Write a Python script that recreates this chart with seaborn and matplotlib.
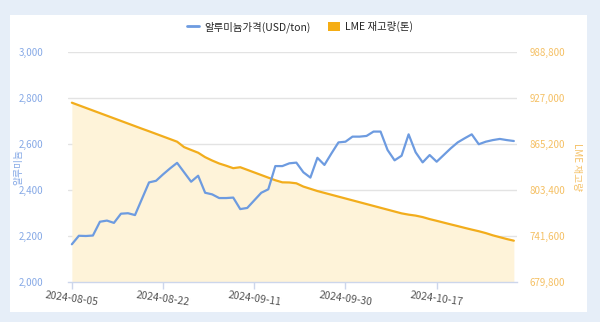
import numpy as np
import pandas as pd
import matplotlib
matplotlib.use("Agg")
import matplotlib.pyplot as plt
import seaborn as sns
from matplotlib.lines import Line2D
from matplotlib.patches import Patch, Rectangle

# ---------------- data ----------------
dates = [d.strftime("%Y-%m-%d") for d in pd.bdate_range("2024-08-05", "2024-11-01")
         if d.strftime("%Y-%m-%d") != "2024-08-26"]

price = [2164, 2201, 2200, 2202, 2262, 2267, 2257, 2297, 2299, 2291,
         2362, 2433, 2440, 2468, 2494, 2518, 2477, 2436, 2462, 2388,
         2381, 2365, 2365, 2367, 2317, 2322, 2355, 2388, 2403, 2504,
         2504, 2516, 2519, 2477, 2454, 2540, 2509, 2559, 2607, 2610,
         2632, 2632, 2635, 2654, 2654, 2574, 2529, 2549, 2642, 2564,
         2520, 2552, 2523, 2552, 2581, 2607, 2625, 2642, 2599, 2610,
         2617, 2622, 2617, 2613]

stock = [920700, 917200, 913700, 910200, 906700, 903200, 899700, 896200, 892700, 889200,
         885700, 882300, 878800, 875300, 871800, 868300, 861000, 857200, 853500, 847500,
         843000, 839000, 836000, 832700, 834000, 830500, 827000, 823500, 820000, 816500,
         813700, 813500, 812400, 808000, 805000, 802000, 799500, 797000, 794500, 792000,
         789500, 787000, 784500, 782000, 779500, 777000, 774500, 772000, 770300, 769000,
         767000, 764300, 762000, 759600, 757200, 754900, 752500, 750200, 748000, 745500,
         742500, 740000, 737500, 735300]

tick_dates = ["2024-08-05", "2024-08-22", "2024-09-11", "2024-09-30", "2024-10-17"]
left_ticks = [2000, 2200, 2400, 2600, 2800, 3000]
right_ticks = [679800, 741600, 803400, 865200, 927000, 988800]

price_label = "알루미늄가격(USD/ton)"
stock_label = "LME 재고량(톤)"
left_axis_title = "알루미늄"
right_axis_title = "LME 재고량"

# ---------------- style ----------------
sns.set_theme(style="white")
plt.rcParams["font.family"] = ["Noto Sans CJK KR", "DejaVu Sans"]

BLUE = "#6d9be0"
BLUE_TXT = "#86a9e6"
ORANGE = "#f2ad1c"
ORANGE_TXT = "#f5c064"
FILL = "#fef3d9"
GRID = "#e3e3e3"
BG = "#e6eef8"

df = pd.DataFrame({"idx": np.arange(len(dates)), "date": dates,
                   "price": price, "stock": stock})

fig = plt.figure(figsize=(6.0, 3.22), dpi=100, facecolor=BG)
fig.patches.append(Rectangle((10 / 600, 10 / 322), 577 / 600, 297 / 322,
                             transform=fig.transFigure, facecolor="white",
                             edgecolor="none", zorder=-5))

PL, PR = 68, 517
ax = fig.add_axes([PL / 600, 1 - 282 / 322, (PR - PL) / 600, 230 / 322])
ax.set_facecolor("none")
ax2 = ax.twinx()
ax2.set_facecolor("none")
ax.set_zorder(ax2.get_zorder() + 1)

# stock (right axis) area + line
ax2.fill_between(df["idx"], df["stock"], right_ticks[0], color=FILL, lw=0, zorder=1)
sns.lineplot(data=df, x="idx", y="stock", ax=ax2, color=ORANGE, lw=1.6, zorder=2)

# price (left axis)
sns.lineplot(data=df, x="idx", y="price", ax=ax, color=BLUE, lw=1.6, zorder=3)

ax.set_xlim(-0.55, len(dates) - 0.55)
ax.set_ylim(left_ticks[0], left_ticks[-1])
ax2.set_ylim(right_ticks[0], right_ticks[-1])

ax.set_yticks(left_ticks)
ax.set_yticklabels([f"{v:,}" for v in left_ticks], color=BLUE_TXT, fontsize=7)
ax2.set_yticks(right_ticks)
ax2.set_yticklabels([f"{v:,}" for v in right_ticks], color=ORANGE_TXT, fontsize=7)

xt = [dates.index(d) for d in tick_dates]
ax.set_xticks(xt)
ax.set_xticklabels(tick_dates, rotation=-8, ha="center", fontsize=7.5, color="#555555")

# grid on secondary axis (below data)
for v in right_ticks[1:]:
    ax2.axhline(v, color=GRID, lw=1, zorder=0.5)

for a in (ax, ax2):
    for s in a.spines.values():
        s.set_visible(False)
    a.set_xlabel("")
ax.spines["bottom"].set_visible(True)
ax.spines["bottom"].set_color("#ccd6eb")
ax.spines["bottom"].set_linewidth(1)

ax.tick_params(axis="x", length=5, width=1, color="#ccd6eb", pad=1, bottom=True)
ax.tick_params(axis="y", length=0, pad=18)
ax2.tick_params(axis="y", length=0, pad=9)

ax.set_ylabel(left_axis_title, color=BLUE_TXT, fontsize=7)
ax.yaxis.label.set_verticalalignment("center")
ax.yaxis.set_label_coords((18 - PL) / (PR - PL), 0.5)
ax2.set_ylabel(right_axis_title, color=ORANGE_TXT, fontsize=7, rotation=270)
ax2.yaxis.label.set_verticalalignment("center")
ax2.yaxis.set_label_coords((577 - PL) / (PR - PL), 0.5)

handles = [Line2D([0], [0], color=BLUE, lw=2),
           Patch(facecolor="#f5ad14", edgecolor="none")]
fig.legend(handles, [price_label, stock_label], loc="center", ncol=2,
           bbox_to_anchor=(0.5, 1 - 27 / 322), frameon=False, fontsize=7.5,
           handlelength=1.2, handleheight=1.0, columnspacing=1.6, handletextpad=0.5)

fig.savefig("out.png", dpi=100, facecolor=BG)
